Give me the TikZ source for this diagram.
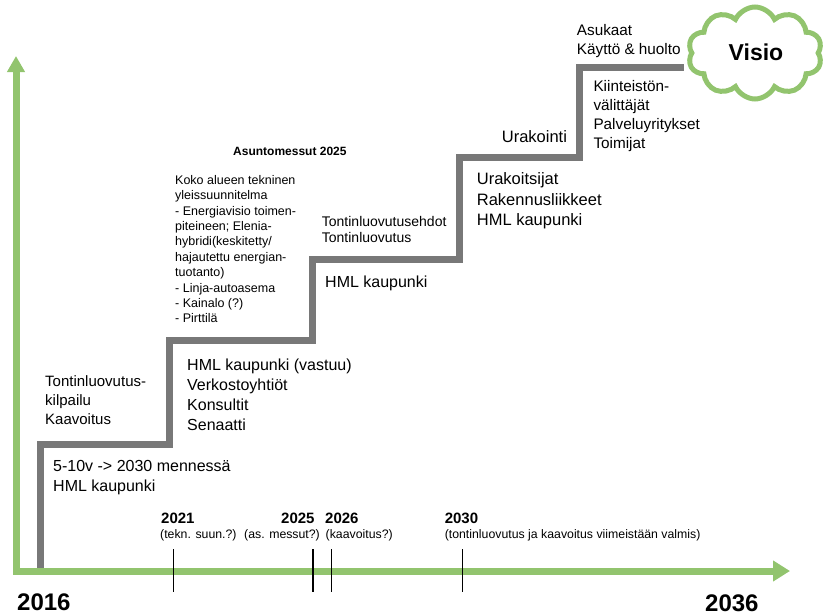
\documentclass[tikz,border=0pt]{standalone}
\usepackage{fontspec}
\setmainfont{Liberation Sans}
\usetikzlibrary{arrows.meta,shapes.symbols}
\definecolor{axisgreen}{HTML}{92C46E}
\definecolor{stairgray}{HTML}{787878}

\begin{document}
\begin{tikzpicture}[x=1pt,y=-1pt,
  block/.style={inner sep=0pt, anchor=north west, align=left},
  oneline/.style={inner sep=0pt, anchor=base west},
  yearlbl/.style={oneline, font=\bfseries\fontsize{15}{18}\selectfont},
  yearnote/.style={oneline, font=\fontsize{12.3}{14}\selectfont},
  endyear/.style={oneline, font=\bfseries\fontsize{24}{28}\selectfont},
  tick/.style={black, line width=1.2pt}]
\useasboundingbox (0,0) rectangle (825,616);

% staircase
\draw[stairgray, line width=7pt]
  (40,571) |- (169,444) |- (312.5,340) |- (459.5,259.5) |- (579.5,157) |- (684,67.5);

% time axis and vertical axis
\coordinate (top) at (16,56);
\coordinate (origin) at (16,571);
\coordinate (right) at (790,571);
\draw[axisgreen, line width=7pt,
  arrows={Triangle[length=16pt,width=17pt]-Triangle[length=17pt,width=20pt]}]
  (top) -- (origin) -- (right);

% year ticks
\foreach \x in {173.7,313,331.5,462.6}
  \draw[tick] (\x,549) -- (\x,592);

% vision cloud
\node[cloud, cloud puffs=10, cloud puff arc=130, aspect=1.4, draw=axisgreen,
  line width=5pt, fill=white, minimum width=134pt, minimum height=92pt,
  inner sep=0pt] (visio) at (755,53) {};
\node[font=\bfseries\fontsize{23}{26}\selectfont, inner sep=0pt] (visiotext) at (756,52) {Visio};

% step texts
\node[block, font=\fontsize{16}{20.5}\selectfont] (step1) at (53,456.8)
  {\strut 5-10v -> 2030 mennessä\\HML kaupunki};
\node[block, font=\fontsize{15}{19}\selectfont] (kilpailu) at (45,373.4)
  {\strut Tontinluovutus-\\kilpailu\\Kaavoitus};
\node[block, font=\fontsize{16}{20.2}\selectfont] (step2) at (187,355.8)
  {\strut HML kaupunki (vastuu)\\Verkostoyhtiöt\\Konsultit\\Senaatti};
\node[block, font=\fontsize{12.5}{15.4}\selectfont] (suunnitelma) at (175,173.3)
  {\strut Koko alueen tekninen\\yleissuunnitelma\\- Energiavisio toimen-\\piteineen; Elenia-\\hybridi(keskitetty/\\hajautettu energian-\\tuotanto)\\- Linja-autoasema\\- Kainalo (?)\\- Pirttilä};
\node[oneline, font=\bfseries\fontsize{12}{14}\selectfont] (messut) at (233,155.7)
  {Asuntomessut 2025};
\node[block, font=\fontsize{14}{16}\selectfont] (ehdot) at (321.7,215.4)
  {\strut Tontinluovutusehdot\\Tontinluovutus};
\node[oneline, font=\fontsize{16}{20}\selectfont] (step3) at (325,287.6)
  {HML kaupunki};
\node[oneline, font=\fontsize{16.5}{20}\selectfont] (urakointi) at (501.7,142.1)
  {Urakointi};
\node[block, font=\fontsize{16.5}{20.4}\selectfont] (step4) at (476.7,170.4)
  {\strut Urakoitsijat\\Rakennusliikkeet\\HML kaupunki};
\node[block, font=\fontsize{15.3}{18.7}\selectfont] (asukaat) at (576.7,22.6)
  {\strut Asukaat\\Käyttö \& huolto};
\node[block, font=\fontsize{15.3}{19}\selectfont] (step5) at (593.3,77.7)
  {\strut Kiinteistön-\\välittäjät\\Palveluyritykset\\Toimijat};

% milestone labels
\node[yearlbl] (y2021) at (161,523) {2021};
\node[yearnote] (n2021) at (160,538.5) {(tekn. suun.?)};
\node[yearlbl] (y2025) at (281,523) {2025};
\node[yearnote] (n2025) at (244,538.5) {(as. messut?)};
\node[yearlbl] (y2026) at (325,523) {2026};
\node[yearnote] (n2026) at (325.5,538.5) {(kaavoitus?)};
\node[yearlbl] (y2030) at (444.6,523) {2030};
\node[yearnote] (n2030) at (444.6,538.5) {(tontinluovutus ja kaavoitus viimeistään valmis)};

% end years
\node[endyear] (y2016) at (17,610.7) {2016};
\node[endyear] (y2036) at (705,611) {2036};
\end{tikzpicture}
\end{document}
